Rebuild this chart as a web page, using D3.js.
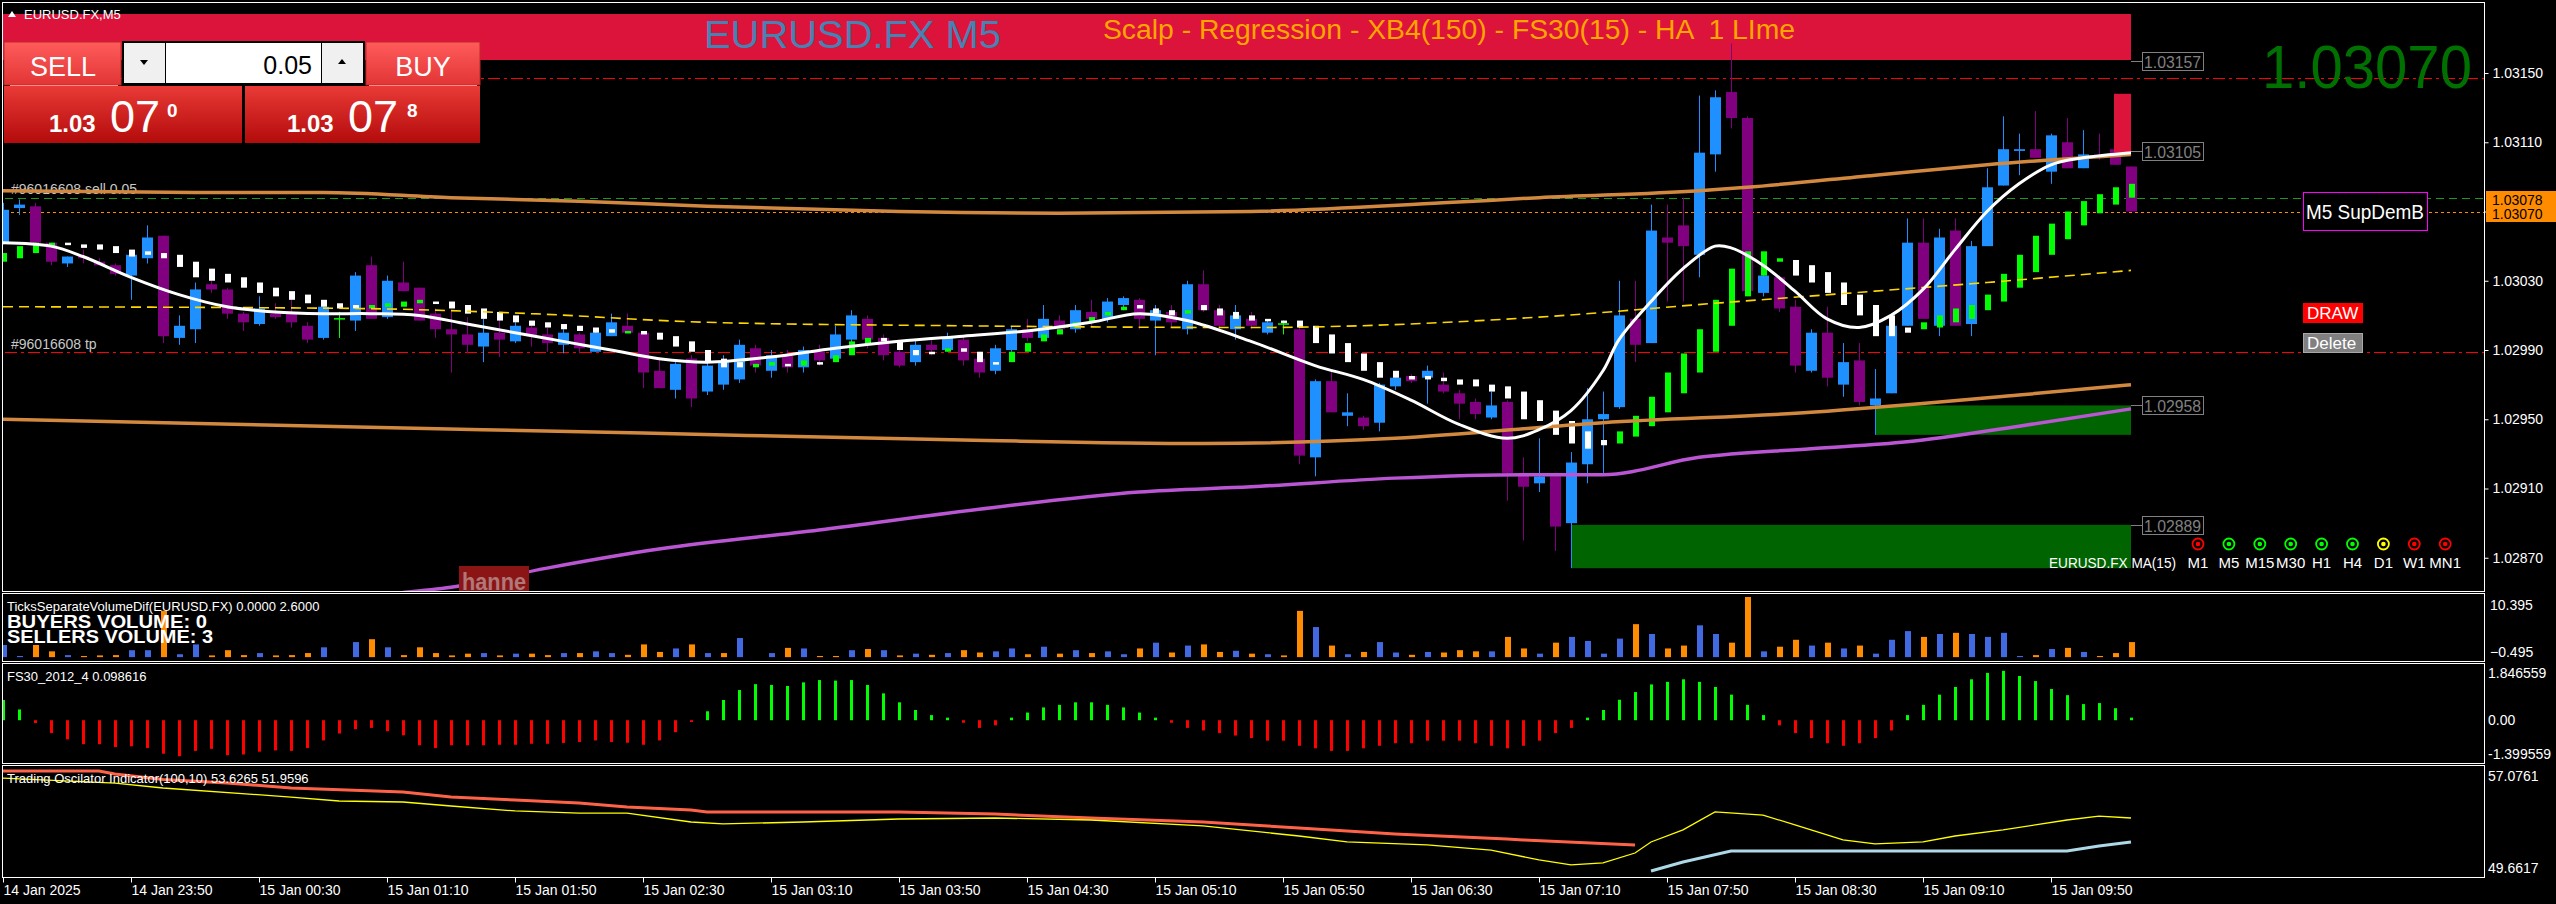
<!DOCTYPE html>
<html><head><meta charset="utf-8">
<script src="https://cdn.jsdelivr.net/npm/d3@7"></script>
<style>
body{margin:0;background:#000;overflow:hidden}
svg{display:block}
text{font-family:"Liberation Sans",Arial,sans-serif}
</style>
</head><body>
<svg id="c" width="2556" height="904"></svg>
<script>
// ---------------- DATA ----------------
const timeLabels=["14 Jan 2025","14 Jan 23:50","15 Jan 00:30","15 Jan 01:10","15 Jan 01:50","15 Jan 02:30","15 Jan 03:10","15 Jan 03:50","15 Jan 04:30","15 Jan 05:10","15 Jan 05:50","15 Jan 06:30","15 Jan 07:10","15 Jan 07:50","15 Jan 08:30","15 Jan 09:10","15 Jan 09:50"];
const timeTickBars=[0,8,16,24,32,40,48,56,64,72,80,88,96,104,112,120,128];
const priceTicks=[1.03150,1.03110,1.03070,1.03030,1.02990,1.02950,1.02910,1.02870];

const candleOpen=[1.03052,1.03072,1.03073,1.03052,1.03040,1.03044,1.03041,1.03039,1.03033,1.03043,
1.03056,1.02997,1.03002,1.03028,1.03025,1.03011,1.03005,1.03011,1.03011,1.03004,
1.02997,1.03008,1.03007,1.03039,1.03009,1.03029,1.03026,1.03011,1.03002,1.02999,
1.02992,1.03000,1.02995,1.03003,1.02999,1.02993,1.02999,1.02989,1.02998,1.03004,
1.03000,1.02978,1.02967,1.02985,1.02966,1.02970,1.02973,1.02991,1.02978,1.02987,
1.02980,1.02989,1.02985,1.02996,1.03008,1.02997,1.02989,1.02983,1.02993,1.02990,
1.02996,1.02985,1.02978,1.02990,1.03002,1.02997,1.03007,1.03002,1.03012,1.03008,
1.03016,1.03019,1.03007,1.03012,1.03002,1.03028,1.03013,1.03002,1.03008,1.03000,
1.03005,1.03002,1.02928,1.02972,1.02952,1.02951,1.02948,1.02969,1.02975,1.02974,
1.02970,1.02965,1.02960,1.02951,1.02960,1.02918,1.02913,1.02917,1.02890,1.02924,
1.02950,1.02957,1.03008,1.02994,1.03055,1.03062,1.03045,1.03103,1.03139,1.03124,
1.03023,1.03032,1.03015,1.02978,1.03000,1.02970,1.02984,1.02958,1.02965,1.03004,
1.03052,1.03004,1.03059,1.03005,1.03050,1.03085,1.03105,1.03106,1.03093,1.03110,
1.03095,1.03103,1.03106,1.03096];
const candleHigh=[1.03075,1.03077,1.03075,1.03052,1.03044,1.03048,1.03043,1.03040,1.03047,1.03062,
1.03056,1.03010,1.03029,1.03030,1.03026,1.03012,1.03021,1.03017,1.03019,1.03006,
1.03016,1.03012,1.03035,1.03044,1.03033,1.03041,1.03026,1.03014,1.03013,1.03009,
1.03008,1.03010,1.03006,1.03004,1.03003,1.03002,1.03000,1.03002,1.03011,1.03011,
1.03000,1.02986,1.02983,1.02987,1.02984,1.02987,1.02996,1.02993,1.02990,1.02990,
1.02992,1.02993,1.03004,1.03013,1.03010,1.02999,1.02993,1.02996,1.02997,1.03000,
1.02998,1.02989,1.02993,1.03004,1.03008,1.03016,1.03010,1.03016,1.03019,1.03020,
1.03021,1.03020,1.03016,1.03016,1.03030,1.03036,1.03016,1.03016,1.03012,1.03007,
1.03007,1.03003,1.02973,1.02978,1.02965,1.02952,1.02971,1.02976,1.02976,1.02981,
1.02977,1.02967,1.02962,1.02966,1.02961,1.02928,1.02939,1.02919,1.02931,1.02968,
1.02966,1.03030,1.03030,1.03074,1.03074,1.03078,1.03137,1.03140,1.03167,1.03125,
1.03036,1.03033,1.03019,1.03002,1.03015,1.02994,1.02994,1.02979,1.03010,1.03066,
1.03066,1.03060,1.03066,1.03053,1.03095,1.03125,1.03115,1.03128,1.03115,1.03124,
1.03117,1.03115,1.03138,1.03096];
const candleLow=[1.03051,1.03068,1.03052,1.03039,1.03038,1.03040,1.03039,1.03033,1.03019,1.03040,
1.02994,1.02993,1.02994,1.03023,1.03008,1.03001,1.03004,1.03008,1.03003,1.02994,
1.02996,1.02997,1.03001,1.03008,1.03008,1.03024,1.03007,1.02997,1.02977,1.02988,
1.02983,1.02986,1.02994,1.02992,1.02989,1.02988,1.02988,1.02989,1.02998,1.03000,
1.02968,1.02968,1.02962,1.02957,1.02964,1.02967,1.02971,1.02977,1.02974,1.02977,
1.02977,1.02981,1.02983,1.02993,1.02991,1.02984,1.02980,1.02981,1.02987,1.02989,
1.02981,1.02974,1.02976,1.02989,1.02995,1.02996,1.02999,1.03000,1.03004,1.03006,
1.03013,1.03002,1.02987,1.03003,1.02999,1.03012,1.03002,1.02996,1.03002,1.02999,
1.02999,1.02924,1.02917,1.02954,1.02946,1.02944,1.02943,1.02967,1.02971,1.02959,
1.02965,1.02950,1.02950,1.02950,1.02903,1.02880,1.02908,1.02874,1.02864,1.02913,
1.02919,1.02956,1.02983,1.02994,1.03018,1.03018,1.03032,1.03093,1.03118,1.03022,
1.03021,1.03012,1.02977,1.02977,1.02969,1.02963,1.02958,1.02941,1.02965,1.03004,
1.03008,1.02998,1.03004,1.02998,1.03050,1.03085,1.03091,1.03101,1.03086,1.03095,
1.03095,1.03100,1.03097,1.03070];
const candleClose=[1.03071,1.03074,1.03052,1.03041,1.03044,1.03043,1.03039,1.03034,1.03045,1.03055,
1.02998,1.03004,1.03025,1.03025,1.03011,1.03006,1.03014,1.03009,1.03006,1.02996,
1.03015,1.03008,1.03033,1.03008,1.03030,1.03024,1.03007,1.03002,1.02999,1.02993,
1.03000,1.02996,1.03004,1.02998,1.02994,1.03000,1.02991,1.03000,1.03006,1.03000,
1.02977,1.02968,1.02982,1.02962,1.02981,1.02983,1.02993,1.02981,1.02987,1.02980,
1.02990,1.02984,1.02999,1.03010,1.02996,1.02987,1.02981,1.02993,1.02990,1.02997,
1.02984,1.02977,1.02991,1.03002,1.02997,1.03008,1.03002,1.03013,1.03008,1.03018,
1.03020,1.03008,1.03013,1.03006,1.03028,1.03013,1.03004,1.03010,1.03004,1.03006,
1.03005,1.02929,1.02972,1.02954,1.02954,1.02946,1.02970,1.02974,1.02972,1.02978,
1.02966,1.02959,1.02953,1.02958,1.02919,1.02911,1.02917,1.02888,1.02925,1.02950,
1.02953,1.03010,1.02993,1.03059,1.03052,1.03050,1.03104,1.03136,1.03124,1.03024,
1.03033,1.03014,1.02981,1.03000,1.02974,1.02983,1.02960,1.02962,1.03004,1.03052,
1.03008,1.03055,1.03004,1.03050,1.03084,1.03106,1.03106,1.03101,1.03114,1.03095,
1.03103,1.03101,1.03097,1.03070];

const haOpen=[1.03041,1.03043,1.03046,1.03050,1.03052,1.03051,1.03051,1.03050,1.03048,1.03047,
1.03046,1.03045,1.03041,1.03037,1.03034,1.03032,1.03029,1.03026,1.03024,1.03022,
1.03019,1.03017,1.03016,1.03014,1.03015,1.03015,1.03017,1.03018,1.03018,1.03016,
1.03014,1.03012,1.03010,1.03007,1.03006,1.03005,1.03004,1.03003,1.03002,1.03000,
1.03001,1.03000,1.02998,1.02995,1.02990,1.02985,1.02983,1.02980,1.02981,1.02982,
1.02981,1.02983,1.02983,1.02987,1.02993,1.02997,1.02995,1.02990,1.02989,1.02989,
1.02991,1.02989,1.02983,1.02983,1.02989,1.02995,1.02999,1.03003,1.03006,1.03010,
1.03013,1.03016,1.03014,1.03013,1.03011,1.03016,1.03014,1.03012,1.03010,1.03008,
1.03007,1.03007,1.03004,1.02999,1.02994,1.02988,1.02983,1.02978,1.02975,1.02975,
1.02974,1.02973,1.02973,1.02970,1.02969,1.02966,1.02961,1.02955,1.02949,1.02943,
1.02938,1.02936,1.02940,1.02946,1.02954,1.02965,1.02977,1.02989,1.03004,1.03021,
1.03033,1.03041,1.03042,1.03039,1.03035,1.03029,1.03022,1.03016,1.03010,1.03003,
1.03002,1.03003,1.03006,1.03008,1.03013,1.03018,1.03026,1.03035,1.03045,1.03054,
1.03062,1.03069,1.03074,1.03078];
const haClose=[1.03046,1.03050,1.03052,1.03052,1.03051,1.03049,1.03048,1.03046,1.03044,1.03045,
1.03043,1.03038,1.03032,1.03030,1.03029,1.03026,1.03023,1.03021,1.03019,1.03017,
1.03015,1.03014,1.03014,1.03016,1.03017,1.03018,1.03019,1.03017,1.03014,1.03011,
1.03008,1.03007,1.03006,1.03004,1.03003,1.03002,1.03001,1.03000,1.03000,1.03001,
1.02999,1.02996,1.02992,1.02989,1.02983,1.02980,1.02980,1.02982,1.02983,1.02981,
1.02984,1.02982,1.02987,1.02995,1.02997,1.02995,1.02990,1.02987,1.02988,1.02991,
1.02989,1.02983,1.02982,1.02989,1.02994,1.02999,1.03002,1.03006,1.03009,1.03012,
1.03015,1.03014,1.03011,1.03010,1.03013,1.03013,1.03010,1.03008,1.03007,1.03007,
1.03006,1.03003,1.02994,1.02988,1.02983,1.02978,1.02974,1.02974,1.02973,1.02973,
1.02972,1.02970,1.02969,1.02966,1.02962,1.02950,1.02949,1.02941,1.02936,1.02933,
1.02935,1.02943,1.02952,1.02963,1.02977,1.02988,1.03002,1.03019,1.03037,1.03047,
1.03047,1.03043,1.03033,1.03029,1.03023,1.03016,1.03010,1.02998,1.02998,1.03000,
1.03006,1.03010,1.03014,1.03016,1.03022,1.03034,1.03045,1.03056,1.03063,1.03070,
1.03076,1.03080,1.03084,1.03086];

// regression / MA lines (sampled at bar indexes)
const whiteBars=[0,3,5,8,11,14,17,20,23,26,29,32,35,38,41,44,48,52,56,60,64,68,71,74,78,82,85,88,91,94,96,98,100,101,103,105,107,108,110,112,114,116,118,120,122,124,126,128,130,133];
const whiteValues=[1.03052,1.03050,1.03044,1.03032,1.03022,1.03015,1.03012,1.03011,1.03011,1.03010,1.03005,1.03000,1.02995,1.02990,1.02985,1.02983,1.02986,1.02991,1.02995,1.02998,1.03001,1.03006,1.03011,1.03007,1.02995,1.02981,1.02973,1.02961,1.02947,1.02939,1.02944,1.02955,1.02978,1.02996,1.03018,1.03037,1.03050,1.03049,1.03039,1.03024,1.03008,1.03003,1.03010,1.03025,1.03048,1.03070,1.03086,1.03097,1.03101,1.03104];
const upperBars=[0,12,20,28,36,44,56,66,78,90,96,106,109,117,124,133];
const upperValues=[1.03082,1.03081,1.03081,1.03078,1.03076,1.03073,1.03070,1.03069,1.03070,1.03075,1.03078,1.03082,1.03084,1.03091,1.03097,1.03103];
const lowerBars=[0,20,40,60,75,87,100,113,126,133];
const lowerValues=[1.02950,1.02946,1.02942,1.02938,1.02936,1.02939,1.02948,1.02954,1.02964,1.02970];
const midBars=[0,22,33,44,60,78,96,107,117,124,133];
const midValues=[1.03015,1.03014,1.03011,1.03006,1.03004,1.03003,1.03009,1.03017,1.03024,1.03029,1.03036];
const maBars=[25,28,34,41,51,61,71,78,87,95,100,106,113,119,126,133];
const maValues=[1.02850,1.02853,1.02864,1.02875,1.02886,1.02898,1.02908,1.02911,1.02916,1.02918,1.02918,1.02928,1.02933,1.02937,1.02946,1.02956];

// zones and levels
const zoneFromBar=[117,98];
const zoneHigh=[1.02958,1.02889];
const zoneLow=[1.02941,1.02864];
const levelLabels=[1.03157,1.03105,1.02958,1.02889];
const tfNames=["M1","M5","M15","M30","H1","H4","D1","W1","MN1"];
const tfColors=["#ff0000","#00ff00","#00ff00","#00ff00","#00ff00","#00ff00","#ffff00","#ff0000","#ff0000"];

// volume panel
const buyVolume=[2.1,0.2,0,0,0.35,0,0,0,1.2,1.2,
0,0.5,2.2,0,0,0,0.7,0,0,0,
1.7,0,2.6,0,1.7,0,0,0,0,0,
0.7,0,0.6,0,0,0.7,0,1.0,0.7,0,
0,0,1.5,0,0.7,0,3.3,0,0.7,0,
1.5,0,0,1.2,0,1.2,0,0.6,0,0.7,
0,0,1.0,1.5,0,1.8,0,1.2,0,1.0,
0.5,0,2.5,0,2.0,0,0,1.1,0,0.5,
0,0,5.2,0,0.5,0,2.6,0.8,0,0.9,
0,0,0,1.0,0,0,0.6,0,3.5,2.8,
0.6,3.2,0,4.0,0,0,5.5,4.0,0,0,
1.0,0,0,2.0,0,1.5,0,0.6,3.0,4.5,
0,4.0,0,4.0,3.5,4.2,0.2,0,1.4,0,
0.9,0,0,0];
const sellVolume=[0,0,2.1,1.0,0,0.2,0.3,0.35,0,0,
8.0,0,0,0.3,1.2,0.35,0,0.3,0.35,0.7,
0,0,0,3.1,0,0.35,1.7,0.7,0.3,0.6,
0,0.3,0,0.6,0.35,0,0.7,0,0,0.4,
2.2,0.9,0,2.2,0,0.7,0,0,0,1.6,
0,0.2,0.2,0,1.4,0,0.3,0,0.4,0,
1.2,0.8,0,0,0.5,0,0.6,0,0.7,0,
0,1.5,0,0.8,0,2.2,0.9,0,0.6,0,
0.3,8.0,0,2.0,0,0.9,0,0,0.4,0,
0.8,1.2,1.0,0,3.5,1.5,0,2.5,0,0,
0,0,5.7,0,1.5,2.0,0,0,2.5,10.4,
0,1.8,3.0,0,2.5,0,2.0,0,0,0,
3.5,0,4.2,0,0,0,0,0.35,0,1.6,
0,0.2,0.7,2.6];
const volTicks=[10.395,-0.495];

// FS30 histogram
const fs30=[0.79,0.42,-0.11,-0.5,-0.75,-0.94,-0.94,-1.05,-1.02,-1.09,
-1.31,-1.41,-1.2,-1.12,-1.37,-1.34,-1.23,-1.18,-1.2,-1.09,
-0.79,-0.52,-0.35,-0.3,-0.43,-0.59,-0.98,-1.09,-0.98,-0.98,
-0.98,-0.96,-0.96,-0.92,-0.92,-0.89,-0.85,-0.79,-0.85,-0.88,
-0.96,-0.79,-0.47,-0.07,0.35,0.79,1.18,1.41,1.38,1.34,
1.48,1.57,1.55,1.57,1.38,1.05,0.7,0.4,0.2,0.1,
-0.1,-0.3,-0.2,0.1,0.3,0.5,0.6,0.7,0.7,0.6,
0.5,0.3,0.1,-0.1,-0.3,-0.4,-0.5,-0.6,-0.7,-0.8,
-0.8,-1.0,-1.1,-1.2,-1.2,-1.1,-1.0,-0.9,-0.9,-0.8,
-0.8,-0.8,-0.9,-1.0,-1.1,-1.0,-0.8,-0.5,-0.3,0.1,
0.4,0.8,1.1,1.4,1.5,1.6,1.5,1.3,1.0,0.6,
0.2,-0.2,-0.5,-0.7,-0.9,-1.0,-0.9,-0.7,-0.4,0.2,
0.6,1.0,1.3,1.6,1.85,1.93,1.73,1.53,1.22,0.98,
0.63,0.67,0.47,0.1];
const fsTicks=[1.846559,0.00,-1.399559];

// trading oscillator
const oscRedBars=[0,6,7,10,14,18,25,28,32,36,39,43,44,56,62,68,75,81,87,94,95,102];
const oscRedValues=[57.48,57.48,57.24,56.8,56.51,56.11,55.79,55.38,55.14,54.90,54.58,54.34,54.18,54.18,54.01,53.69,53.37,52.89,52.40,52.00,51.92,51.52];
const oscYellowBars=[0,7,10,18,21,25,28,32,36,39,43,45,50,54,56,62,68,75,81,84,89,93,96,98,100,102,103,105,107,110,112,115,117,120,122,125,129,131,133];
const oscYellowValues=[56.91,56.51,56.11,55.38,55.06,54.98,54.66,54.26,54.09,54.09,53.37,53.21,53.37,53.53,53.61,53.69,53.53,53.05,52.24,51.76,51.52,51.11,50.31,49.91,50.07,50.87,51.76,52.73,54.18,53.93,53.13,51.92,51.60,51.76,52.24,52.73,53.53,53.85,53.69];
const oscBlueBars=[103,105,108,129,131,133];
const oscBlueValues=[49.42,50.15,51.03,51.03,51.44,51.76];
const oscTicks=[57.0761,49.6617];

// ---------------- DRAW ----------------
const svg=d3.select('#c');
const AX=2484;
const x=d3.scaleLinear().domain([0,133]).range([3,2131]);
const yMain=d3.scaleLinear().domain([1.028508,1.031864]).range([591,10]);
const yVol=d3.scaleLinear().domain([-0.495,10.395]).range([660,597]);
const yFs=d3.scaleLinear().domain([-1.399559,1.846559]).range([756,673]);
const yOsc=d3.scaleLinear().domain([49.6617,57.0761]).range([868,776]);

svg.append('rect').attr('width',2556).attr('height',904).attr('fill','#000');
const defs=svg.append('defs');
function clip(id,x0,y0,x1,y1){defs.append('clipPath').attr('id',id).append('rect').attr('x',x0).attr('y',y0).attr('width',x1-x0).attr('height',y1-y0);}
clip('cMain',3,3,AX,591);clip('cVol',3,594,AX,661);clip('cFs',3,664,AX,763);clip('cOsc',3,766,AX,877);
function grad(id,c1,c2){const g=defs.append('linearGradient').attr('id',id).attr('x1',0).attr('y1',0).attr('x2',0).attr('y2',1);g.append('stop').attr('offset','0%').attr('stop-color',c1);g.append('stop').attr('offset','100%').attr('stop-color',c2);}
grad('gBtn','#ff5b5b','#e23535');grad('gPrice','#e93a36','#b30b0b');

// panel frames
const frames=[[2,2,591],[2,593,661],[2,663,763],[2,765,877]];
frames.forEach(f=>{svg.append('rect').attr('x',f[0]+0.5).attr('y',f[1]+0.5).attr('width',AX-f[0]).attr('height',f[2]-f[1]).attr('fill','none').attr('stroke','#fff').attr('stroke-width',1);});

// title banner
svg.append('rect').attr('x',3).attr('y',14).attr('width',x(133)-3).attr('height',46).attr('fill','#DC143C');

const gm=svg.append('g').attr('clip-path','url(#cMain)');
// zones
zoneFromBar.forEach((b,i)=>{gm.append('rect').attr('x',x(b)).attr('y',yMain(zoneHigh[i])).attr('width',x(133)-x(b)).attr('height',yMain(zoneLow[i])-yMain(zoneHigh[i])).attr('fill','#006400');});

// order labels
gm.append('text').attr('x',11).attr('y',194).attr('font-size',14).attr('fill','#c8c8c8').text('#96016608 sell 0.05');
gm.append('text').attr('x',11).attr('y',349).attr('font-size',14).attr('fill','#c8c8c8').text('#96016608 tp');

// horizontal lines
const hLinePrices=[1.03147,1.02989,1.03078,1.03070];
const hLineColors=['#ff0000','#ff0000','#1a9a1a','#ff8c00'];
const hLineDash=['12,4,3,4','12,4,3,4','8,5','3,3'];
hLinePrices.forEach((p,i)=>{gm.append('line').attr('x1',5).attr('x2',AX).attr('y1',Math.round(yMain(p))+0.5).attr('y2',Math.round(yMain(p))+0.5).attr('stroke',hLineColors[i]).attr('stroke-width',1).attr('stroke-dasharray',hLineDash[i]);});

// candles
const idx=d3.range(candleOpen.length);
idx.forEach(i=>{
  const o=candleOpen[i],c=candleClose[i],h=candleHigh[i],l=candleLow[i];
  const col=c>o?'#1E90FF':(c<o?'#800080':'#00ff00');
  const cx=Math.round(x(i));
  gm.append('line').attr('x1',cx+0.5).attr('x2',cx+0.5).attr('y1',yMain(h)).attr('y2',yMain(l)).attr('stroke',col).attr('stroke-width',1);
  if(c===o){gm.append('line').attr('x1',cx-5).attr('x2',cx+6).attr('y1',yMain(o)).attr('y2',yMain(o)).attr('stroke',col).attr('stroke-width',1.5);}
  else{const y0=yMain(Math.max(o,c)),y1=yMain(Math.min(o,c));
  gm.append('rect').attr('x',cx-5).attr('y',y0).attr('width',11).attr('height',Math.max(1.5,y1-y0)).attr('fill',col);}
});
// HA markers
idx.forEach(i=>{
  const o=haOpen[i],c=haClose[i];const cx=Math.round(x(i));
  const y0=yMain(Math.max(o,c)),y1=yMain(Math.min(o,c));
  gm.append('rect').attr('x',cx-2).attr('y',y0).attr('width',6).attr('height',Math.max(2.5,y1-y0)).attr('fill',c>o?'#00ff00':'#ffffff');
});
// signal box
gm.append('rect').attr('x',x(132)-1).attr('y',yMain(1.03138)).attr('width',x(133)-x(132)+1).attr('height',yMain(1.03104)-yMain(1.03138)).attr('fill','#DC143C');

function lineOf(bars,vals,ys,curve){return d3.line().x((d,i)=>x(bars[i])).y((d,i)=>ys(vals[i])).curve(curve)(vals);}
gm.append('path').attr('d',lineOf(midBars,midValues,yMain,d3.curveMonotoneX)).attr('fill','none').attr('stroke','#FFD700').attr('stroke-width',1.6).attr('stroke-dasharray','10,6');
gm.append('path').attr('d',lineOf(upperBars,upperValues,yMain,d3.curveMonotoneX)).attr('fill','none').attr('stroke','#D2893F').attr('stroke-width',3.5);
gm.append('path').attr('d',lineOf(lowerBars,lowerValues,yMain,d3.curveMonotoneX)).attr('fill','none').attr('stroke','#D2893F').attr('stroke-width',3.5);
gm.append('path').attr('d',lineOf(maBars,maValues,yMain,d3.curveMonotoneX)).attr('fill','none').attr('stroke','#BA55D3').attr('stroke-width',3.5);
gm.append('path').attr('d',lineOf(whiteBars,whiteValues,yMain,d3.curveCatmullRom)).attr('fill','none').attr('stroke','#ffffff').attr('stroke-width',3);

// watermark
gm.append('rect').attr('x',459).attr('y',566).attr('width',70).attr('height',26).attr('fill','#8b1515');
gm.append('text').attr('x',462).attr('y',590).attr('font-size',23).attr('font-weight','bold').attr('fill','#b07878').attr('textLength',64).attr('lengthAdjust','spacingAndGlyphs').text('hanne');

// titles
svg.append('text').attr('x',704).attr('y',48).attr('font-size',38).attr('fill','#4682B4').attr('textLength',297).attr('lengthAdjust','spacingAndGlyphs').text('EURUSD.FX M5');
svg.append('text').attr('x',1103).attr('y',39).attr('font-size',27).attr('fill','#FFA500').attr('textLength',692).attr('lengthAdjust','spacingAndGlyphs').style('white-space','pre').text('Scalp - Regression - XB4(150) - FS30(15) - HA  1 LIme');

// level label boxes
levelLabels.forEach(p=>{const yy=Math.round(yMain(p))+0.5;
  svg.append('line').attr('x1',x(133)).attr('x2',2142).attr('y1',yy).attr('y2',yy).attr('stroke','#808080');
  svg.append('rect').attr('x',2142.5).attr('y',yy-9).attr('width',61).attr('height',18).attr('fill','#000').attr('stroke','#808080');
  svg.append('text').attr('x',2144).attr('y',yy+6).attr('font-size',16).attr('fill','#808080').attr('textLength',57).attr('lengthAdjust','spacingAndGlyphs').text(d3.format('.5f')(p));
});

// big price
svg.append('text').attr('x',2262).attr('y',88).attr('font-size',62).attr('fill','#007000').attr('textLength',210).attr('lengthAdjust','spacingAndGlyphs').text(d3.format('.5f')(candleClose[133]));
// SupDem box
svg.append('rect').attr('x',2303.5).attr('y',192.5).attr('width',124).attr('height',38).attr('fill','#000').attr('stroke','#ff00ff');
svg.append('text').attr('x',2306).attr('y',219).attr('font-size',21).attr('fill','#fff').attr('textLength',118).attr('lengthAdjust','spacingAndGlyphs').text('M5 SupDemB');
svg.append('rect').attr('x',2303).attr('y',303).attr('width',60).attr('height',20).attr('fill','#ff0000');
svg.append('text').attr('x',2307).attr('y',319).attr('font-size',17).attr('fill','#fff').text('DRAW');
svg.append('rect').attr('x',2303.5).attr('y',333.5).attr('width',59).attr('height',19).attr('fill','#808080').attr('stroke','#a8a8a8');
svg.append('text').attr('x',2307).attr('y',349).attr('font-size',17).attr('fill','#fff').text('Delete');

// timeframe dots
tfNames.forEach((n,i)=>{const cx=2198+i*30.9;
  svg.append('circle').attr('cx',cx).attr('cy',544).attr('r',5.5).attr('fill','none').attr('stroke',tfColors[i]).attr('stroke-width',1.8);
  svg.append('circle').attr('cx',cx).attr('cy',544).attr('r',2.3).attr('fill',tfColors[i]);
  svg.append('text').attr('x',cx).attr('y',568).attr('text-anchor','middle').attr('font-size',15).attr('fill','#fff').text(n);
});
svg.append('text').attr('x',2049).attr('y',568).attr('font-size',15).attr('fill','#fff').attr('textLength',127).attr('lengthAdjust','spacingAndGlyphs').text('EURUSD.FX MA(15)');

// right price axis
const yAxis=d3.axisRight(yMain).tickValues(priceTicks).tickFormat(d3.format('.5f')).tickSize(4).tickPadding(4);
const ga=svg.append('g').attr('transform',`translate(${AX+0.5},0)`).call(yAxis);
ga.select('.domain').remove();
ga.selectAll('line').attr('stroke','#fff');
ga.selectAll('text').attr('fill','#fff').attr('font-size',14).attr('font-family','"Liberation Sans",Arial,sans-serif');
// bid/ask labels
svg.append('rect').attr('x',2486).attr('y',191).attr('width',70).attr('height',31).attr('fill','#FF8C00');
svg.append('text').attr('x',2492).attr('y',205).attr('font-size',14).attr('fill','#000').text('1.03078');
svg.append('text').attr('x',2492).attr('y',219).attr('font-size',14).attr('fill','#000').text('1.03070');

// ---- volume panel
const gv=svg.append('g').attr('clip-path','url(#cVol)');
idx.forEach(i=>{
  if(buyVolume[i]>0) gv.append('rect').attr('x',Math.round(x(i))-2).attr('y',yVol(buyVolume[i])).attr('width',6).attr('height',yVol(0)-yVol(buyVolume[i])).attr('fill','#4169E1');
  if(sellVolume[i]>0) gv.append('rect').attr('x',Math.round(x(i))-2).attr('y',yVol(sellVolume[i])).attr('width',6).attr('height',yVol(0)-yVol(sellVolume[i])).attr('fill','#FF8C00');
});
svg.append('text').attr('x',7).attr('y',611).attr('font-size',13).attr('fill','#fff').text('TicksSeparateVolumeDif(EURUSD.FX) 0.0000 2.6000');
svg.append('text').attr('x',7).attr('y',628).attr('font-size',18).attr('font-weight','bold').attr('fill','#fff').attr('textLength',200).attr('lengthAdjust','spacingAndGlyphs').text('BUYERS VOLUME: 0');
svg.append('text').attr('x',7).attr('y',643).attr('font-size',18).attr('font-weight','bold').attr('fill','#fff').attr('textLength',206).attr('lengthAdjust','spacingAndGlyphs').text('SELLERS VOLUME: 3');
svg.append('text').attr('x',2490).attr('y',610).attr('font-size',14).attr('fill','#fff').text(d3.format('.3f')(volTicks[0]));
svg.append('text').attr('x',2490).attr('y',657).attr('font-size',14).attr('fill','#fff').text(d3.format('.3f')(volTicks[1]));

// ---- FS30 panel
const gf=svg.append('g').attr('clip-path','url(#cFs)');
idx.forEach(i=>{const v=fs30[i];
  gf.append('rect').attr('x',Math.round(x(i))-1).attr('y',Math.min(yFs(v),yFs(0))).attr('width',3).attr('height',Math.max(1.5,Math.abs(yFs(v)-yFs(0)))).attr('fill',v>=0?'#00ff00':'#ff0000');
});
svg.append('text').attr('x',7).attr('y',681).attr('font-size',13).attr('fill','#fff').text('FS30_2012_4 0.098616');
const fsLabels=['1.846559','0.00','-1.399559'];const fsLabelY=[678,725,759];
fsLabels.forEach((t,i)=>{svg.append('text').attr('x',2488).attr('y',fsLabelY[i]).attr('font-size',14).attr('fill','#fff').text(t);});

// ---- Oscillator panel
const go=svg.append('g').attr('clip-path','url(#cOsc)');
go.append('path').attr('d',lineOf(oscRedBars,oscRedValues,yOsc,d3.curveLinear)).attr('fill','none').attr('stroke','#FF6347').attr('stroke-width',3);
go.append('path').attr('d',lineOf(oscYellowBars,oscYellowValues,yOsc,d3.curveLinear)).attr('fill','none').attr('stroke','#FFFF00').attr('stroke-width',1.3);
go.append('path').attr('d',lineOf(oscBlueBars,oscBlueValues,yOsc,d3.curveLinear)).attr('fill','none').attr('stroke','#ADD8E6').attr('stroke-width',3);
svg.append('text').attr('x',7).attr('y',783).attr('font-size',13).attr('fill','#fff').text('Trading Oscilator Indicator(100,10) 53.6265 51.9596');
svg.append('text').attr('x',2488).attr('y',781).attr('font-size',14).attr('fill','#fff').text(d3.format('.4f')(oscTicks[0]));
svg.append('text').attr('x',2488).attr('y',873).attr('font-size',14).attr('fill','#fff').text(d3.format('.4f')(oscTicks[1]));

// ---- time axis
const xAxis=d3.axisBottom(x).tickValues(timeTickBars).tickFormat((d,i)=>timeLabels[i]).tickSize(5).tickPadding(3);
const gx=svg.append('g').attr('transform','translate(0,877.5)').call(xAxis);
gx.select('.domain').remove();
gx.selectAll('line').attr('stroke','#fff');
gx.selectAll('text').attr('fill','#fff').attr('font-size',14).attr('text-anchor','start').attr('font-family','"Liberation Sans",Arial,sans-serif');

// ---- trade panel
const tp=svg.append('g');
tp.append('polygon').attr('points','8,17 12,11 16,17').attr('fill','#fff');
tp.append('text').attr('x',24).attr('y',19).attr('font-size',13).attr('fill','#fff').text('EURUSD.FX,M5');
tp.append('rect').attr('x',4).attr('y',42).attr('width',117).attr('height',43).attr('fill','url(#gBtn)').attr('stroke','#c02828');
tp.append('text').attr('x',63).attr('y',76).attr('text-anchor','middle').attr('font-size',27).attr('fill','#fff').text('SELL');
tp.append('rect').attr('x',366).attr('y',42).attr('width',114).attr('height',43).attr('fill','url(#gBtn)').attr('stroke','#c02828');
tp.append('text').attr('x',423).attr('y',76).attr('text-anchor','middle').attr('font-size',27).attr('fill','#fff').text('BUY');
tp.append('rect').attr('x',122).attr('y',41).attr('width',243).attr('height',44).attr('fill','#000');
tp.append('rect').attr('x',124).attr('y',43).attr('width',41).attr('height',40).attr('fill','#f0f0f0');
tp.append('rect').attr('x',166).attr('y',43).attr('width',155).attr('height',40).attr('fill','#fff');
tp.append('rect').attr('x',322).attr('y',43).attr('width',41).attr('height',40).attr('fill','#f0f0f0');
tp.append('polygon').attr('points','140,60 148,60 144,65').attr('fill','#000');
tp.append('polygon').attr('points','338,64 346,64 342,59').attr('fill','#000');
tp.append('text').attr('x',312).attr('y',74).attr('text-anchor','end').attr('font-size',25).attr('fill','#000').text('0.05');
tp.append('line').attr('x1',10).attr('x2',118).attr('y1',85.5).attr('y2',85.5).attr('stroke','#ff8a8a');
tp.append('line').attr('x1',369).attr('x2',477).attr('y1',85.5).attr('y2',85.5).attr('stroke','#ff8a8a');
tp.append('rect').attr('x',4).attr('y',86).attr('width',238).attr('height',57).attr('fill','url(#gPrice)');
tp.append('rect').attr('x',245).attr('y',86).attr('width',235).attr('height',57).attr('fill','url(#gPrice)');
tp.append('text').attr('x',49).attr('y',132).attr('font-size',24).attr('font-weight','bold').attr('fill','#fff').text('1.03');
tp.append('text').attr('x',110).attr('y',132).attr('font-size',45).attr('fill','#fff').text('07');
tp.append('text').attr('x',167).attr('y',117).attr('font-size',19).attr('font-weight','bold').attr('fill','#fff').text('0');
tp.append('text').attr('x',287).attr('y',132).attr('font-size',24).attr('font-weight','bold').attr('fill','#fff').text('1.03');
tp.append('text').attr('x',348).attr('y',132).attr('font-size',45).attr('fill','#fff').text('07');
tp.append('text').attr('x',407).attr('y',117).attr('font-size',19).attr('font-weight','bold').attr('fill','#fff').text('8');
</script>
</body></html>
